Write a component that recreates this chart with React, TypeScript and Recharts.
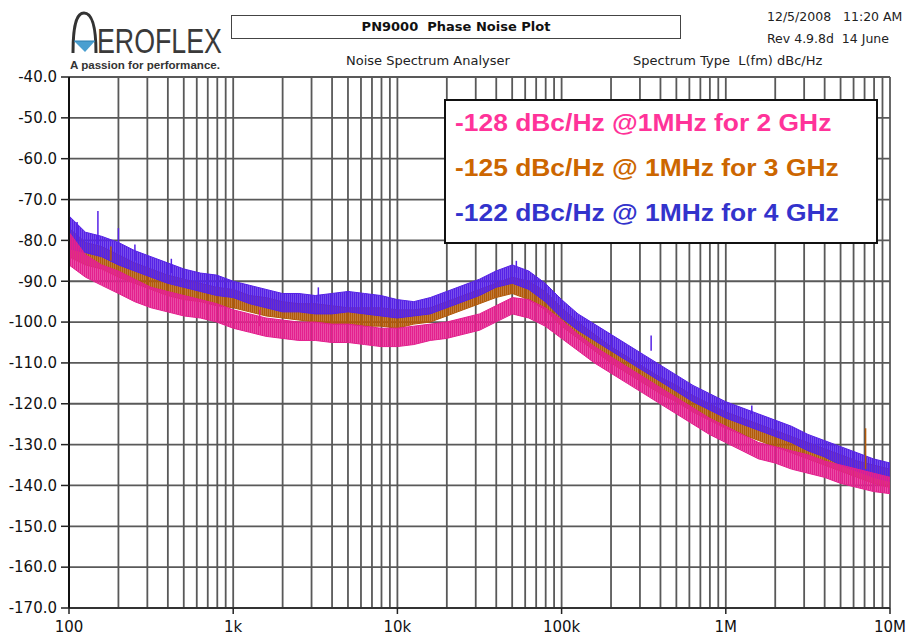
import {
  ComposedChart,
  Area,
  XAxis,
  YAxis,
  CartesianGrid,
  ReferenceLine,
} from "recharts";

// offset frequencies, 10 points per decade (Hz)
const FREQS = [
  100, 126, 158, 200, 251, 316, 398, 501, 631, 794,
  1000, 1259, 1585, 1995, 2512, 3162, 3981, 5012, 6310, 7943,
  10000, 12589, 15849, 19953, 25119, 31623, 39811, 50119, 63096, 79433,
  100000, 125893, 158489, 199526, 251189, 316228, 398107, 501187, 630957, 794328,
  1000000, 1258925, 1584893, 1995262, 2511886, 3162278, 3981072, 5011872, 6309573, 7943282,
  10000000,
];

const DECADE_TICKS = [100, 1000, 10000, 100000, 1000000, 10000000];
const DECADE_LABELS = ["100", "1k", "10k", "100k", "1M", "10M"];
const LEVEL_TICKS = [-170, -160, -150, -140, -130, -120, -110, -100, -90, -80, -70, -60, -50, -40];

// noise envelope (low / high edge) of each trace, dBc/Hz
const GHZ4_LO = [
  -82, -83, -84, -86, -87.5, -89, -90.5, -91.5, -92.5, -93.5,
  -94, -95.5, -96.5, -97.5, -97.5, -98, -98, -97.5, -98, -98.5,
  -99, -98.5, -98, -96.5, -95, -93.5, -91.5, -90.5, -92, -95,
  -99, -102, -104.5, -107, -109.5, -112, -114.5, -117, -119.5, -121.5,
  -123.5, -125, -126.5, -128, -129.5, -131.5, -133, -135, -136.5, -138,
  -139,
];
const GHZ4_HI = [
  -74, -78, -79, -80.5, -82.5, -84, -85.5, -87, -88, -88.5,
  -90, -91, -92, -93, -93, -93.5, -93, -92.5, -93, -93.5,
  -94.5, -95, -94, -92.5, -91, -89.5, -87.5, -86, -87.5, -90.5,
  -94.5, -98, -100.5, -103, -105.5, -108, -110.5, -113, -115.5, -117.5,
  -119.5, -121, -122.5, -124, -125.5, -127.5, -129, -130.5, -132, -133.5,
  -134.5,
];
const GHZ3_LO = [
  -84, -86, -87, -89, -90.5, -92, -93.5, -94.5, -95, -96,
  -96.5, -97.5, -98.5, -99, -99.5, -100, -100.5, -100.5, -101, -101,
  -101.5, -100.5, -100, -98.5, -97, -95.5, -94, -93, -94.5, -97,
  -101, -104, -107, -110, -112.5, -115, -117.5, -119.5, -122, -124,
  -126, -127.5, -129, -130.5, -132, -133.5, -135, -136.5, -138, -139.5,
  -140.5,
];
const GHZ3_HI = [
  -77, -80.5, -81.5, -83.5, -85.5, -87, -88.5, -89.5, -90.5, -91.5,
  -92, -93.5, -94, -95, -95.5, -95.5, -96, -96.5, -96.5, -96.5,
  -97, -97, -96.5, -95, -93.5, -92, -90.5, -89, -90, -92.5,
  -96.5, -100, -103, -106, -108.5, -111, -113.5, -115.5, -118, -120,
  -122, -123.5, -125, -126.5, -128, -129.5, -131, -132.5, -134, -135,
  -136,
];
const GHZ2_LO = [
  -86, -89, -91, -93, -95, -96.5, -97.5, -98.5, -99, -100,
  -101.5, -102.5, -103.5, -104, -104.5, -104.5, -105, -105, -105.5, -106,
  -106, -105.5, -104.5, -104, -103, -102, -100, -98, -99, -101,
  -104, -107, -110, -112.5, -115, -117.5, -120, -122.5, -125, -127.5,
  -129.5, -131.5, -133.5, -134.5, -136, -137, -138, -139.5, -140.5, -141.5,
  -142,
];
const GHZ2_HI = [
  -78, -83.5, -86, -87.5, -89.5, -91.5, -92.5, -93.5, -94.5, -95.5,
  -97, -98, -99, -99.5, -100, -100, -100.5, -100.5, -101, -101.5,
  -101.5, -101, -100.5, -100, -99, -98, -96, -94, -94.5, -96.5,
  -99.5, -103, -106, -108.5, -111, -113.5, -116, -118.5, -121, -123.5,
  -125.5, -127.5, -129.5, -130.5, -131.5, -132.5, -134, -135, -136, -137,
  -138,
];

// isolated spurs and tall noise spikes standing above the floor
const SPURS = [
  { trace: "4G", f: 100, from: -76, to: -68 },
  { trace: "4G", f: 112, from: -80, to: -75.5 },
  { trace: "4G", f: 150, from: -81, to: -72.8 },
  { trace: "4G", f: 200, from: -83, to: -77 },
  { trace: "4G", f: 252, from: -85, to: -81 },
  { trace: "4G", f: 420, from: -88, to: -84.5 },
  { trace: "4G", f: 3300, from: -95, to: -91.5 },
  { trace: "4G", f: 53000, from: -88, to: -85 },
  { trace: "4G", f: 351000, from: -107, to: -103.3 },
  { trace: "4G", f: 1440000, from: -122.5, to: -120.4 },
  { trace: "3G", f: 100, from: -80, to: -74 },
  { trace: "3G", f: 180, from: -85, to: -81.5 },
  { trace: "3G", f: 7100000, from: -136, to: -126 },
  { trace: "2G", f: 100, from: -84, to: -78.5 },
  { trace: "2G", f: 245, from: -92, to: -89.6 },
  { trace: "2G", f: 1450, from: -101, to: -97 },
];

const NOTES = [
  { text: "-128 dBc/Hz @1MHz for 2 GHz", color: "#ff3399" },
  { text: "-125 dBc/Hz @ 1MHz for 3 GHz", color: "#cc6600" },
  { text: "-122 dBc/Hz @ 1MHz for 4 GHz", color: "#3333cc" },
];

const TRACE_COLORS: Record<string, string> = {
  "2G": "#e3208e",
  "3G": "#b25a0a",
  "4G": "#5522e6",
};

// grid at 1..9 x every decade
const GRID_FREQS = DECADE_TICKS.slice(0, -1)
  .flatMap((d) => [1, 2, 3, 4, 5, 6, 7, 8, 9].map((m) => m * d))
  .concat(10000000);

const rows = FREQS.map((f, i) => ({
  f,
  g2: [GHZ2_LO[i], GHZ2_HI[i]],
  g3: [GHZ3_LO[i], GHZ3_HI[i]],
  g4: [GHZ4_LO[i], GHZ4_HI[i]],
}));

const TICK_FONT = { fontSize: 15, fill: "#111", fontFamily: "DejaVu Sans" };
const SANS = "DejaVu Sans, Verdana, sans-serif";

// only decades get a tick mark and a label
function FreqTick(props: any) {
  const { x, y, payload } = props;
  const idx = DECADE_TICKS.indexOf(payload.value);
  if (idx < 0) return <g />;
  return (
    <g>
      <line x1={x} x2={x} y1={y} y2={y + 6} stroke="#222" strokeWidth={1.5} />
      <text
        x={x}
        y={y + 13}
        dy="0.71em"
        textAnchor="middle"
        fontSize={15}
        fill="#111"
        fontFamily="DejaVu Sans"
      >
        {DECADE_LABELS[idx]}
      </text>
    </g>
  );
}

function Logo() {
  return (
    <svg
      width={200}
      height={75}
      style={{ position: "absolute", left: 64, top: 0 }}
    >
      <path
        d="M9 53 C9 20 14 13 20 13 C26 13 32 20 32 53"
        fill="none"
        stroke="#333"
        strokeWidth={3}
      />
      <path d="M10 41 L31 41 L21 52 Z" fill="#4a9fd0" />
      <line x1={10} y1={41} x2={31} y2={41} stroke="#2b7fb0" strokeWidth={1} />
      <text
        x={33}
        y={53}
        fontSize={30}
        fontFamily="Liberation Sans Narrow, Liberation Sans, Arial, sans-serif"
        fill="#3a3a3a"
        textLength={125}
        lengthAdjust="spacingAndGlyphs"
        transform="translate(0 53) scale(1 1.15) translate(0 -53)"
      >
        EROFLEX
      </text>
      <text
        x={6}
        y={69}
        fontSize={10.5}
        fontWeight="bold"
        fontFamily="Liberation Sans, Arial, sans-serif"
        fill="#333"
        textLength={150}
        lengthAdjust="spacingAndGlyphs"
      >
        A passion for performance.
      </text>
    </svg>
  );
}

export default function App() {
  return (
    <div
      style={{
        position: "absolute",
        left: 0,
        top: 0,
        width: 906,
        height: 635,
        background: "#fff",
        fontFamily: SANS,
      }}
    >
      <ComposedChart
        width={906}
        height={635}
        data={rows}
        margin={{ top: 77, right: 16, bottom: 5, left: 0 }}
      >
        <defs>
          {Object.entries(TRACE_COLORS).map(([k, c]) => (
            <pattern
              key={k}
              id={`hatch${k}`}
              width={2}
              height={6}
              patternUnits="userSpaceOnUse"
            >
              <rect width={2} height={6} fill={c} opacity={0.8} />
              <rect width={1} height={6} fill={c} />
            </pattern>
          ))}
        </defs>
        <CartesianGrid stroke="#595959" strokeWidth={1.8} />
        <XAxis
          dataKey="f"
          type="number"
          scale="log"
          domain={[100, 10000000]}
          ticks={GRID_FREQS}
          interval={0}
          allowDataOverflow
          tick={<FreqTick />}
          tickSize={0}
          tickMargin={0}
          tickLine={false}
          axisLine={{ stroke: "#333", strokeWidth: 2 }}
          height={22}
        />
        <YAxis
          type="number"
          domain={[-170, -40]}
          ticks={LEVEL_TICKS}
          interval={0}
          allowDataOverflow
          tickFormatter={(v: number) => v.toFixed(1)}
          tick={TICK_FONT}
          tickSize={8}
          tickMargin={4}
          tickLine={{ stroke: "#222", strokeWidth: 1.5 }}
          axisLine={{ stroke: "#111", strokeWidth: 2 }}
          width={69}
        />
        <Area
          dataKey="g3"
          type="linear"
          stroke={TRACE_COLORS["3G"]}
          strokeWidth={1}
          fill="url(#hatch3G)"
          fillOpacity={1}
          dot={false}
          activeDot={false}
          isAnimationActive={false}
        />
        <Area
          dataKey="g4"
          type="linear"
          stroke={TRACE_COLORS["4G"]}
          strokeWidth={1}
          fill="url(#hatch4G)"
          fillOpacity={1}
          dot={false}
          activeDot={false}
          isAnimationActive={false}
        />
        <Area
          dataKey="g2"
          type="linear"
          stroke={TRACE_COLORS["2G"]}
          strokeWidth={1}
          fill="url(#hatch2G)"
          fillOpacity={1}
          dot={false}
          activeDot={false}
          isAnimationActive={false}
        />
        {SPURS.map((s, i) => (
          <ReferenceLine
            key={i}
            segment={[
              { x: s.f, y: s.from },
              { x: s.f, y: s.to },
            ]}
            stroke={TRACE_COLORS[s.trace]}
            strokeWidth={1.5}
          />
        ))}
      </ComposedChart>

      <Logo />

      {/* header */}
      <div
        style={{
          position: "absolute",
          left: 231,
          top: 15,
          width: 448,
          height: 22,
          border: "1.5px solid #444",
          fontSize: 13,
          fontWeight: "bold",
          lineHeight: "22px",
          textAlign: "center",
          color: "#111",
        }}
      >
        PN9000&nbsp; Phase Noise Plot
      </div>
      <div style={{ position: "absolute", left: 346, top: 53, fontSize: 13, color: "#222" }}>
        Noise Spectrum Analyser
      </div>
      <div style={{ position: "absolute", left: 633, top: 53, fontSize: 13, color: "#222", whiteSpace: "pre" }}>
        {"Spectrum Type  L(fm) dBc/Hz"}
      </div>
      <div style={{ position: "absolute", left: 767, top: 9, fontSize: 12.5, color: "#222", whiteSpace: "pre" }}>
        {"12/5/2008   11:20 AM"}
      </div>
      <div style={{ position: "absolute", left: 767, top: 31, fontSize: 12.5, color: "#222", whiteSpace: "pre" }}>
        {"Rev 4.9.8d  14 June"}
      </div>

      {/* spec callout */}
      <div
        style={{
          position: "absolute",
          left: 444,
          top: 99,
          width: 430,
          height: 141,
          background: "#fff",
          border: "2px solid #111",
        }}
      >
        {NOTES.map((n, i) => (
          <div
            key={i}
            style={{
              position: "absolute",
              left: 9,
              top: 8 + i * 45,
              fontFamily: "Liberation Sans, Arial, sans-serif",
              fontWeight: "bold",
              fontSize: 24,
              color: n.color,
              whiteSpace: "nowrap",
              transform: "scaleX(1.1)",
              transformOrigin: "left center",
            }}
          >
            {n.text}
          </div>
        ))}
      </div>
    </div>
  );
}
